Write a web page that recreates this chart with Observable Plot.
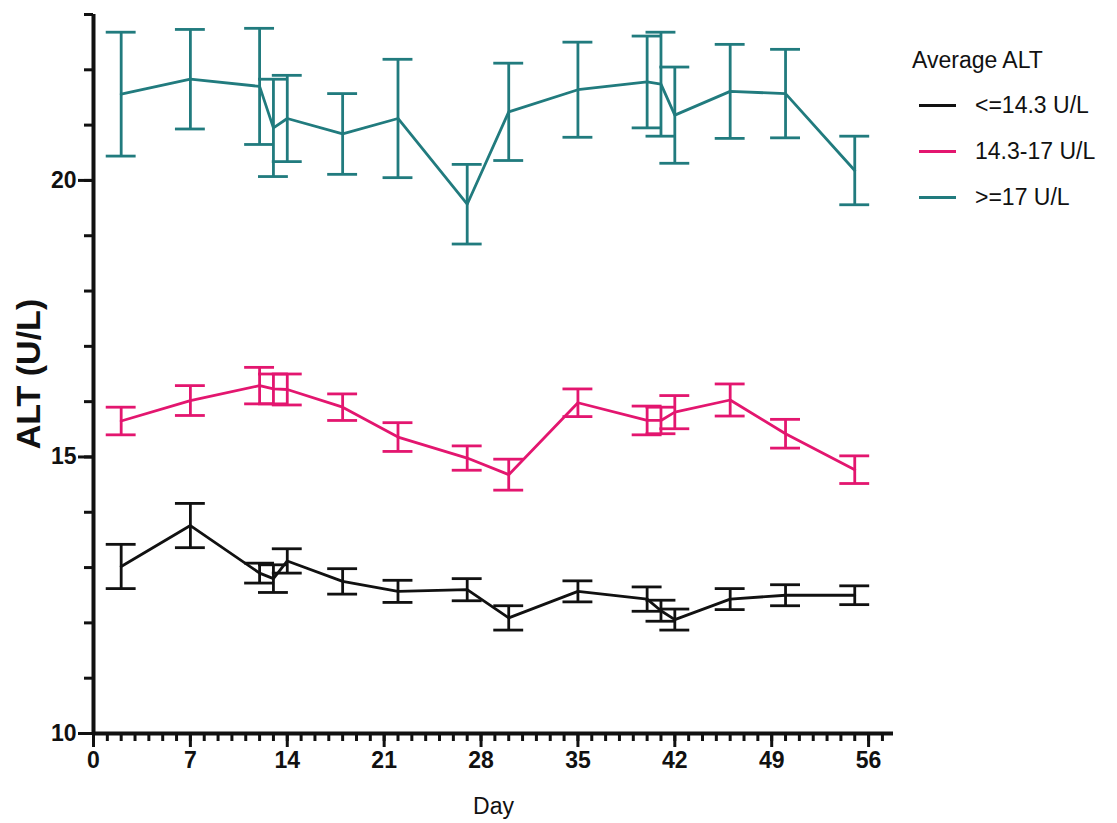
<!DOCTYPE html>
<html>
<head>
<meta charset="utf-8">
<script src="https://cdn.jsdelivr.net/npm/d3@7"></script>
<script src="https://cdn.jsdelivr.net/npm/@observablehq/plot@0.6"></script>
<style>
  body { margin: 0; background: #fff; }
  #wrap { position: relative; width: 1117px; height: 823px; }
  #legend { position: absolute; left: 912px; top: 44px; font-family: "Liberation Sans", Arial, sans-serif; font-size: 23px; color: #111; }
  #legend .title { height: 32px; line-height: 32px; margin-bottom: 6px; }
  #legend .item { display: flex; align-items: center; height: 46px; }
  #legend .sw { width: 37px; height: 3px; margin-left: 7px; margin-right: 19px; }
  svg g[aria-label="x-axis tick label"] text, svg g[aria-label="y-axis tick label"] text { font-weight: bold !important; font-size: 23px !important; }
  svg g[aria-label="y-axis label"] text { font-weight: bold !important; font-size: 34px !important; }
  svg g[aria-label="x-axis label"] text { font-size: 23px !important; }
</style>
</head>
<body>
<div id="wrap"><div id="chart"></div><div id="legend"></div></div>
<script>
const groups = ["<=14.3 U/L", "14.3-17 U/L", ">=17 U/L"];
const colors = ["#111111", "#e3166f", "#217b7e"];
const days = [2, 7, 12, 13, 14, 18, 22, 27, 30, 35, 40, 41, 42, 46, 50, 55];
const lowMean  = [13.02, 13.76, 12.90, 12.80, 13.12, 12.75, 12.57, 12.60, 12.09, 12.57, 12.43, 12.22, 12.06, 12.43, 12.50, 12.50];
const lowErr   = [0.40, 0.40, 0.18, 0.25, 0.22, 0.23, 0.20, 0.20, 0.22, 0.19, 0.22, 0.19, 0.19, 0.19, 0.19, 0.17];
const midMean  = [15.65, 16.02, 16.29, 16.23, 16.22, 15.90, 15.36, 14.98, 14.68, 15.98, 15.66, 15.66, 15.81, 16.03, 15.42, 14.77];
const midErr   = [0.25, 0.27, 0.33, 0.27, 0.28, 0.24, 0.26, 0.22, 0.28, 0.25, 0.26, 0.24, 0.30, 0.29, 0.26, 0.25];
const highMean = [21.56, 21.83, 21.70, 20.95, 21.12, 20.84, 21.12, 19.57, 21.24, 21.64, 21.78, 21.74, 21.18, 21.61, 21.57, 20.18];
const highErr  = [1.12, 0.90, 1.05, 0.88, 0.78, 0.73, 1.07, 0.72, 0.88, 0.86, 0.83, 0.94, 0.87, 0.85, 0.80, 0.62];
const xTicks = [0, 7, 14, 21, 28, 35, 42, 49, 56];
const yTicks = [10, 15, 20];

const capHalf = 1.08; // cap half-width in days
const series = [lowMean, midMean, highMean];
const errs = [lowErr, midErr, highErr];
const data = [];
groups.forEach((g, gi) => {
  days.forEach((d, i) => {
    const m = series[gi][i], e = errs[gi][i];
    data.push({group: g, day: d, mean: m, lo: m - e, hi: m + e, c1: d - capHalf, c2: d + capHalf});
  });
});

const chart = Plot.plot({
  width: 1117,
  height: 823,
  marginLeft: 93,
  marginRight: 224,
  marginTop: 14,
  marginBottom: 90,
  style: {fontFamily: '"Liberation Sans", Arial, sans-serif', fontSize: "23px", color: "#111"},
  x: {domain: [0, 57.8]},
  y: {domain: [10, 23]},
  color: {domain: groups, range: colors},
  marks: [
    Plot.axisX({ticks: d3.range(0, 58), tickSize: 8, strokeWidth: 3, tickFormat: () => "", label: null}),
    Plot.axisX({ticks: xTicks, tickSize: 14, tickPadding: 4, strokeWidth: 3, tickFormat: d3.format("d"),
      label: "Day", labelAnchor: "center", labelOffset: 80, labelArrow: "none"}),
    Plot.axisY({ticks: d3.range(10, 24), tickSize: 9, strokeWidth: 3, tickFormat: () => "", label: null}),
    Plot.axisY({ticks: yTicks, tickSize: 15, tickPadding: 2, strokeWidth: 3, tickFormat: d3.format("d"),
      label: "ALT (U/L)", labelAnchor: "center", labelOffset: 78, labelArrow: "none"}),
    Plot.ruleX([0], {strokeWidth: 4}),
    Plot.ruleY([10], {strokeWidth: 4}),
    Plot.ruleX(data, {x: "day", y1: "lo", y2: "hi", stroke: "group", strokeWidth: 2.8}),
    Plot.ruleY(data, {y: "lo", x1: "c1", x2: "c2", stroke: "group", strokeWidth: 2.8}),
    Plot.ruleY(data, {y: "hi", x1: "c1", x2: "c2", stroke: "group", strokeWidth: 2.8}),
    Plot.line(data, {x: "day", y: "mean", z: "group", stroke: "group", strokeWidth: 2.8})
  ]
});
document.getElementById("chart").appendChild(chart);

const legend = document.getElementById("legend");
const t = document.createElement("div");
t.className = "title";
t.textContent = "Average ALT";
legend.appendChild(t);
groups.forEach((g, i) => {
  const it = document.createElement("div");
  it.className = "item";
  const sw = document.createElement("span");
  sw.className = "sw";
  sw.style.background = colors[i];
  const tx = document.createElement("span");
  tx.textContent = g;
  it.appendChild(sw);
  it.appendChild(tx);
  legend.appendChild(it);
});
</script>
</body>
</html>
